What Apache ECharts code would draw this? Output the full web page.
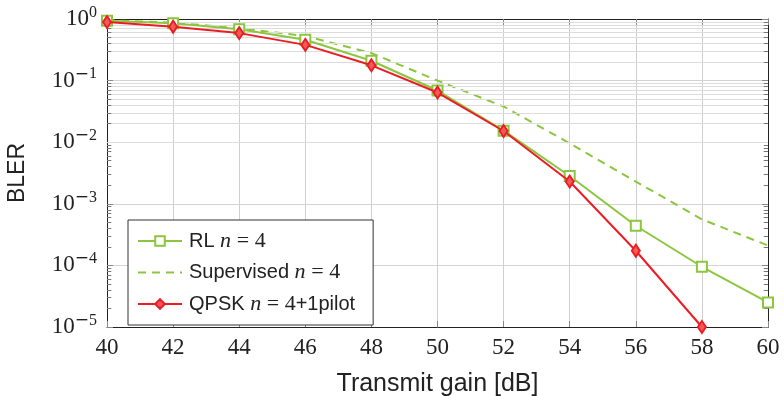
<!DOCTYPE html>
<html>
<head>
<meta charset="utf-8">
<script src="https://cdn.jsdelivr.net/npm/echarts@6/dist/echarts.min.js"></script>
<style>
  html, body { margin: 0; padding: 0; background: #fff; }
  #chart { width: 784px; height: 396px; }
</style>
</head>
<body>
<div id="chart"></div>
<script>
// Transmit gain in dB
const gains = [40, 42, 44, 46, 48, 50, 52, 54, 56, 58, 60];
// Block error rate per scheme
const rlBler = [0.94, 0.85, 0.68, 0.46, 0.21, 0.069, 0.0154, 0.00283, 4.4e-4, 9.5e-5, 2.5e-5];
const supervisedBler = [0.96, 0.87, 0.71, 0.53, 0.28, 0.1, 0.038, 0.0096, 0.0023, 5.6e-4, 2.1e-4];
const qpskBler = [0.89, 0.75, 0.59, 0.38, 0.177, 0.064, 0.0152, 0.0023, 1.73e-4, 1.0e-5];

const seriesNames = ['RL', 'Supervised', 'QPSK'];
const legendLabels = {
  'RL': 'RL {i|n} {m|=} {m|4}',
  'Supervised': 'Supervised {i|n} {m|=} {m|4}',
  'QPSK': 'QPSK {i|n} {m|=} {m|4}+1pilot'
};

const xMin = 40, xMax = 60, xStep = 2;
const yMin = 1e-5, yMax = 1;

const GREEN = '#8cc63f';
const RED = '#ec1c24';
const TEXT = '#222';
const SERIF = '"Liberation Serif", "DejaVu Serif", serif';
const SANS = '"Liberation Sans", Arial, sans-serif';

// minor values 2..9 within each decade of the log axis
const minorValues = [];
for (let e = -5; e < 0; e++) {
  for (let m = 2; m <= 9; m++) minorValues.push(m * Math.pow(10, e));
}

function pairs(xs, ys) {
  return ys.map((v, i) => [xs[i], v]);
}

// short inward tick marks for minor values on left and right frame
const tickLen = 0.13;
const minorTickLines = [];
minorValues.forEach(v => {
  minorTickLines.push([{ coord: [xMin, v] }, { coord: [xMin + tickLen, v] }]);
  minorTickLines.push([{ coord: [xMax - tickLen, v] }, { coord: [xMax, v] }]);
});

// decade label as 10 with a raised exponent
function expLabel(v) {
  const e = Math.round(Math.log10(v));
  if (e < 0) return '{b|10}{m|\u2212}{s|' + (-e) + '}';
  return '{b|10}{s|' + e + '}';
}

const chart = echarts.init(document.getElementById('chart'), null, { renderer: 'canvas' });

chart.setOption({
  animation: false,
  backgroundColor: '#fff',
  grid: { left: 107, right: 16, top: 19, bottom: 69, containLabel: false, outerBoundsMode: 'none' },
  xAxis: [
    {
      type: 'value', min: xMin, max: xMax, interval: xStep,
      name: 'Transmit gain [dB]', nameLocation: 'middle', nameGap: 45,
      nameTextStyle: { fontFamily: SANS, fontSize: 25, color: TEXT },
      axisLine: { show: true, lineStyle: { color: '#222', width: 1 } },
      axisTick: { show: true, inside: true, length: 6, lineStyle: { color: '#888' } },
      axisLabel: { fontFamily: SERIF, fontSize: 23, color: TEXT, margin: 9 },
      splitLine: { show: true, lineStyle: { color: '#cfcfcf', width: 1 } }
    },
    {
      type: 'value', min: xMin, max: xMax, interval: xStep, position: 'top',
      axisLine: { show: true, lineStyle: { color: '#222', width: 1 } },
      axisTick: { show: true, inside: true, length: 6, lineStyle: { color: '#888' } },
      axisLabel: { show: false },
      splitLine: { show: false }
    }
  ],
  yAxis: [
    {
      type: 'log', logBase: 10, min: yMin, max: yMax,
      name: 'BLER', nameLocation: 'middle', nameGap: 78, nameRotate: 90,
      nameTextStyle: { fontFamily: SANS, fontSize: 23, color: TEXT },
      axisLine: { show: true, lineStyle: { color: '#222', width: 1 } },
      axisTick: { show: true, inside: true, length: 6, lineStyle: { color: '#888' } },
      axisLabel: {
        margin: 10,
        formatter: expLabel,
        rich: {
          b: { fontFamily: SERIF, fontSize: 23, color: TEXT },
          m: { fontFamily: '"DejaVu Sans", sans-serif', fontSize: 17, color: TEXT, padding: [0, 0, 13, 0] },
          s: { fontFamily: SERIF, fontSize: 16, color: TEXT, padding: [0, 0, 13, 0] }
        }
      },
      splitLine: { show: true, lineStyle: { color: '#d4d4d4', width: 1 } }
    },
    {
      type: 'log', logBase: 10, min: yMin, max: yMax, position: 'right',
      axisLine: { show: true, lineStyle: { color: '#222', width: 1 } },
      axisTick: { show: true, inside: true, length: 6, lineStyle: { color: '#888' } },
      axisLabel: { show: false },
      splitLine: { show: false }
    }
  ],
  legend: {
    data: [
      { name: 'RL' },
      { name: 'Supervised', itemStyle: { opacity: 0 } },
      { name: 'QPSK' }
    ],
    orient: 'vertical',
    left: 128, top: 220,
    padding: [10, 18, 10, 9],
    itemGap: 9.5,
    itemWidth: 44,
    itemHeight: 12,
    backgroundColor: '#fff',
    borderColor: '#333',
    borderWidth: 1,
    borderRadius: 0,
    formatter: name => legendLabels[name],
    textStyle: {
      fontFamily: SANS, fontSize: 20, color: TEXT, lineHeight: 20, padding: [0, 0, 0, 2],
      rich: {
        i: { fontFamily: SERIF, fontStyle: 'italic', fontSize: 22, color: TEXT },
        m: { fontFamily: SERIF, fontSize: 22, color: TEXT }
      }
    }
  },
  series: [
    {
      // minor grid lines of the log axis
      type: 'line', name: 'minor-grid', data: [], z: 1, silent: true,
      markLine: {
        silent: true, symbol: ['none', 'none'], animation: false,
        label: { show: false },
        lineStyle: { color: '#dcdcdc', width: 1, type: 'solid' },
        data: minorValues.map(v => ({ yAxis: v }))
      }
    },
    {
      // minor tick marks on the left and right frame
      type: 'line', name: 'minor-ticks', data: [], z: 3, silent: true,
      markLine: {
        silent: true, symbol: ['none', 'none'], animation: false,
        label: { show: false },
        lineStyle: { color: '#777', width: 1, type: 'solid' },
        data: minorTickLines
      }
    },
    {
      name: 'Supervised', type: 'line', z: 4,
      data: pairs(gains, supervisedBler),
      showSymbol: false, symbol: 'none',
      lineStyle: { color: GREEN, width: 2, type: [8, 6] },
      itemStyle: { color: GREEN },
      clip: false
    },
    {
      name: 'RL', type: 'line', z: 5,
      data: pairs(gains, rlBler),
      symbol: 'rect', symbolSize: 10,
      lineStyle: { color: GREEN, width: 2 },
      itemStyle: { color: '#fff', borderColor: GREEN, borderWidth: 2 },
      clip: false
    },
    {
      name: 'QPSK', type: 'line', z: 6,
      data: pairs(gains, qpskBler),
      symbol: 'diamond', symbolSize: [8, 12],
      lineStyle: { color: RED, width: 2 },
      itemStyle: { color: '#f25a5a', borderColor: RED, borderWidth: 2 },
      clip: false
    }
  ]
});
</script>
</body>
</html>
